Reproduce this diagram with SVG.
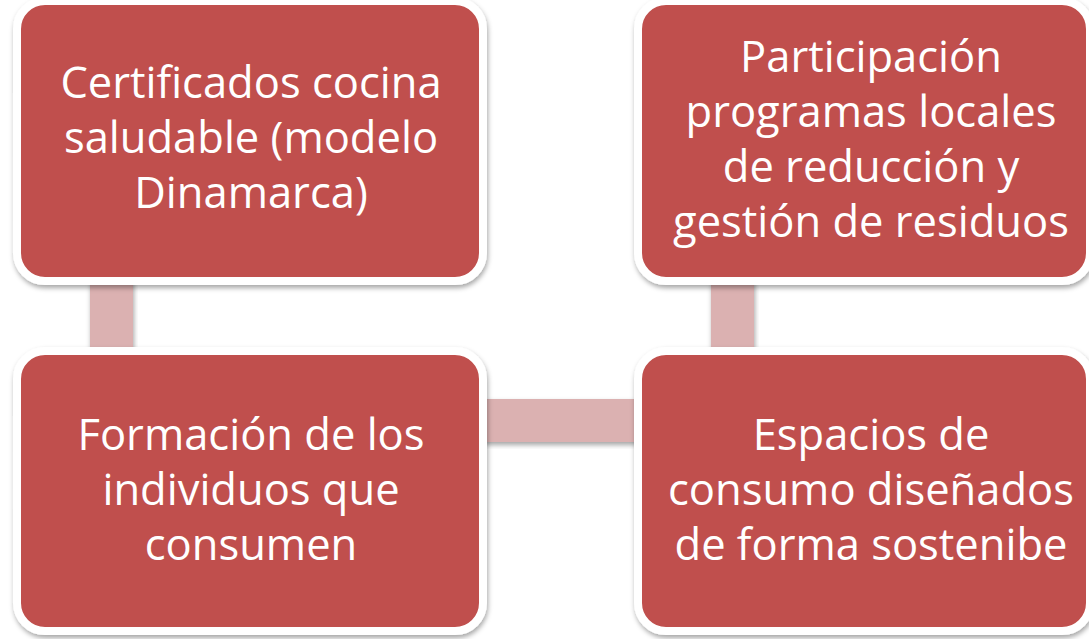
<svg xmlns="http://www.w3.org/2000/svg" width="1089" height="639" viewBox="0 0 1089 639">
<defs>
<filter id="sh" x="-10%" y="-10%" width="120%" height="125%">
<feDropShadow dx="1" dy="3" stdDeviation="2.5" flood-color="#000" flood-opacity="0.35"/>
</filter>
<style>
.box{fill:#C0504D;stroke:#fff;stroke-width:8;filter:url(#sh)}
.con{fill:#DBB1B1;filter:url(#sh)}
.t{font-family:"Open Sans","DejaVu Sans",sans-serif;font-size:43.5px;fill:#fff;text-anchor:middle}
</style>
</defs>
<rect width="1089" height="639" fill="#fff"/>
<g id="connectors">
<rect class="con" x="90" y="279" width="43" height="72"/>
<rect class="con" x="711" y="279" width="43" height="72"/>
<rect class="con" x="483" y="399" width="156" height="43"/>
</g>
<g id="n1">
<rect class="box" x="17" y="1" width="466" height="280" rx="28"/>
<text class="t"><tspan x="251" y="98">Certificados cocina</tspan><tspan x="251" y="153">saludable (modelo</tspan><tspan x="251" y="208">Dinamarca)</tspan></text>
</g>
<g id="n2">
<rect class="box" x="638" y="1" width="452" height="280" rx="28"/>
<text class="t"><tspan x="871" y="72">Participación</tspan><tspan x="871" y="127">programas locales</tspan><tspan x="871" y="182">de reducción y</tspan><tspan x="871" y="237">gestión de residuos</tspan></text>
</g>
<g id="n3">
<rect class="box" x="17" y="351" width="466" height="280" rx="28"/>
<text class="t"><tspan x="251" y="450">Formación de los</tspan><tspan x="251" y="505">individuos que</tspan><tspan x="251" y="560">consumen</tspan></text>
</g>
<g id="n4">
<rect class="box" x="638" y="351" width="452" height="280" rx="28"/>
<text class="t"><tspan x="871" y="450">Espacios de</tspan><tspan x="871" y="505">consumo diseñados</tspan><tspan x="871" y="560">de forma sostenibe</tspan></text>
</g>
</svg>
